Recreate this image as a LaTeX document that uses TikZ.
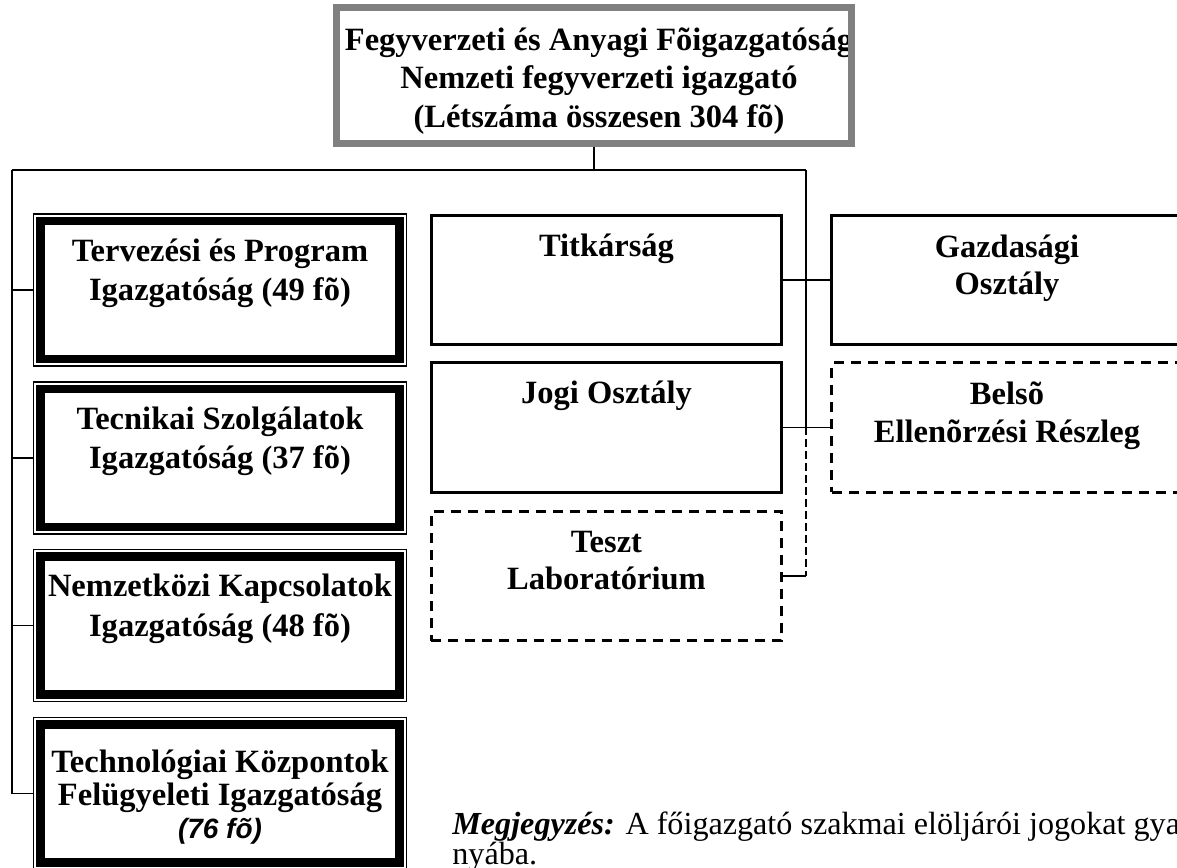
\documentclass[tikz,border=0pt]{standalone}
\usepackage{fontspec}
\setmainfont{Liberation Serif}
\setsansfont{Liberation Sans}
\usepackage{tikz}
\usetikzlibrary{positioning}
\definecolor{keretszurke}{RGB}{128, 128, 128}

\tikzset{
  cimke/.style={font=\bfseries\fontsize{18.5}{21.3}\selectfont, align=center, inner sep=0pt, execute at begin node=\strut},
  fokeret/.style={draw=keretszurke, line width=4pt, minimum width=10.3cm, minimum height=2.72cm},
  igazgatosag/.style={draw, line width=0.85pt, minimum width=7.46cm, minimum height=3.04cm,
    path picture={\draw[line width=4.7pt] ([shift={(0.14cm,0.14cm)}]path picture bounding box.south west) rectangle ([shift={(-0.14cm,-0.14cm)}]path picture bounding box.north east);}},
  iroda/.style={draw, line width=1.5pt, minimum width=7.01cm, minimum height=2.59cm},
  szaggatott/.style={dash pattern=on 5.7pt off 4pt},
  vonal/.style={line width=0.85pt},
  ritkavonal/.style={line width=0.85pt, dash pattern=on 4.5pt off 2.3pt}
}

\begin{document}
\begin{tikzpicture}[x=0.02cm, y=-0.02cm]
  \useasboundingbox (0,0) rectangle (1177,867);

  % foigazgatosag
  \begin{scope}
    \clip (340,11) rectangle (848,140);
    \node[cimke, font=\bfseries\fontsize{18.5}{22}\selectfont, anchor=north] (foszoveg) at (599,27) {Fegyverzeti és Anyagi Fõigazgatóság\\Nemzeti fegyverzeti igazgató\\(Létszáma összesen 304 fõ)};
  \end{scope}
  \node[fokeret] (fo) at (594,75.5) {};

  % igazgatosagok
  \node[igazgatosag] (terv) at (220,290) {};
  \node[cimke, font=\bfseries\fontsize{18.5}{22.5}\selectfont, below=0.5cm of terv.north] (tervszoveg) {Tervezési és Program\\Igazgatóság (49 fõ)};
  \node[igazgatosag] (tecn) at (220,458) {};
  \node[cimke, font=\bfseries\fontsize{18.5}{22.5}\selectfont, below=0.5cm of tecn.north] (tecnszoveg) {Tecnikai Szolgálatok\\Igazgatóság (37 fõ)};
  \node[igazgatosag] (nemz) at (220,625.5) {};
  \node[cimke, font=\bfseries\fontsize{18.5}{22.5}\selectfont, below=0.5cm of nemz.north] (nemzszoveg) {Nemzetközi Kapcsolatok\\Igazgatóság (48 fõ)};
  \node[igazgatosag] (tech) at (220,793.5) {};
  \node[cimke, font=\bfseries\fontsize{18.5}{18.8}\selectfont, below=0.66cm of tech.north] (techszoveg) {Technológiai Központok\\Felügyeleti Igazgatóság\\{\sffamily\itshape\fontsize{15.9}{18.2}\selectfont (76 fõ)}};

  % osztalyok
  \node[iroda] (titk) at (606.5,280) {};
  \node[cimke, below=0.31cm of titk.north] (titkszoveg) {Titkárság};
  \node[iroda] (jogi) at (606.5,427.5) {};
  \node[cimke, below=0.31cm of jogi.north] (jogiszoveg) {Jogi Osztály};
  \node[iroda, szaggatott] (teszt) at (606.5,576) {};
  \node[cimke, below=0.41cm of teszt.north] (tesztszoveg) {Teszt\\Laboratórium};
  \node[iroda] (gazd) at (1007,280) {};
  \node[cimke, below=0.41cm of gazd.north] (gazdszoveg) {Gazdasági\\Osztály};
  \node[iroda, szaggatott] (belso) at (1007,427.5) {};
  \node[cimke, below=0.41cm of belso.north] (belsoszoveg) {Belsõ\\Ellenõrzési Részleg};

  % vonalak
  \coordinate (busL) at (12,170);
  \coordinate (busR) at (806,170);
  \draw[vonal] (fo.south) -- (fo.south |- busL);
  \draw[vonal] (busL) -- (busR);
  \draw[vonal] (busL) |- (tech.west);
  \draw[vonal] (terv.west) -- (terv.west -| busL);
  \draw[vonal] (tecn.west) -- (tecn.west -| busL);
  \draw[vonal] (nemz.west) -- (nemz.west -| busL);
  \draw[vonal] (busR) -- (busR |- jogi.east);
  \draw[ritkavonal] (busR |- jogi.east) -- (busR |- teszt.east);
  \draw[vonal] (titk.east) -- (gazd.west);
  \draw[vonal] (jogi.east) -- (belso.west);
  \draw[vonal] (teszt.east) -- (busR |- teszt.east);

  % megjegyzes
  \node[anchor=base west, align=left, inner sep=0pt, font=\fontsize{18.3}{16.8}\selectfont] (megj) at (452,864) {{\bfseries\itshape Megjegyzés:} A főigazgató szakmai elöljárói jogokat gya\\nyába.};
\end{tikzpicture}
\end{document}
